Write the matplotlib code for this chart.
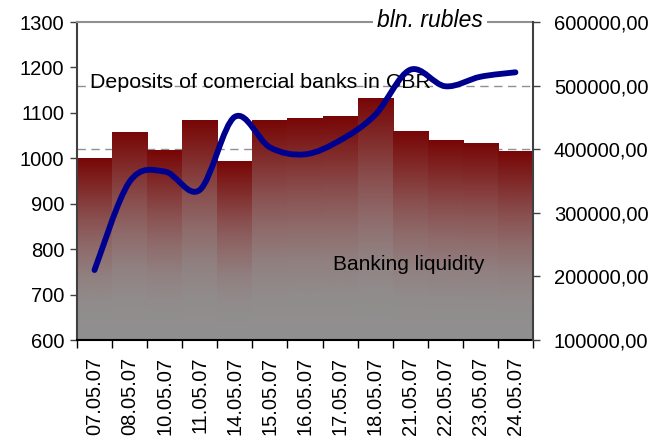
import numpy as np
import matplotlib
matplotlib.use('Agg')
import matplotlib.pyplot as plt
from matplotlib.colors import LinearSegmentedColormap
from matplotlib.path import Path
from matplotlib.patches import PathPatch
from matplotlib.transforms import blended_transform_factory

plt.rcParams['font.family'] = ['Liberation Sans', 'DejaVu Sans']

dates = ['07.05.07', '08.05.07', '10.05.07', '11.05.07', '14.05.07', '15.05.07',
         '16.05.07', '17.05.07', '18.05.07', '21.05.07', '22.05.07', '23.05.07', '24.05.07']
# deposits of commercial banks in CBR (left axis)
deposits = [1001, 1058, 1018, 1084, 994, 1084, 1089, 1093, 1133, 1060, 1040, 1034, 1016]
# banking liquidity (right axis)
liquidity = [210000, 349000, 365000, 336000, 451000, 403000, 392000,
             414000, 454000, 525000, 499000, 514000, 521000]

left_ticks = [600, 700, 800, 900, 1000, 1100, 1200, 1300]
right_ticks = [100000, 200000, 300000, 400000, 500000, 600000]
grid_vals = [400000, 500000]

fig = plt.figure(figsize=(6.67, 4.41), dpi=100)
ax = fig.add_axes([0.1154, 0.229, 0.6837, 0.721])
ax2 = ax.twinx()

x = np.arange(len(dates))

# bars with vertical gradient (dark red on top -> gray at bottom)
cmap = LinearSegmentedColormap.from_list(
    'redgray', [(0.0, '#780606'), (0.19, '#82302f'), (0.34, '#8a5050'),
                (0.49, '#8f6a6a'), (0.65, '#918080'), (0.8, '#918c8c'),
                (1.0, '#909090')])
grad = np.linspace(0, 1, 256).reshape(-1, 1)
bars = ax.bar(x, deposits, width=1.0, bottom=0, color='none', edgecolor='none', zorder=1)
for xi, h, b in zip(x, deposits, bars):
    im = ax.imshow(grad, extent=[xi - 0.5, xi + 0.5, 600, h], origin='upper',
                   aspect='auto', cmap=cmap, zorder=1)
    im.set_clip_path(b)

ax.set_xlim(-0.5, len(dates) - 0.5)
ax.set_ylim(600, 1300)
ax.set_yticks(left_ticks)
ax.set_aspect('auto')

# dashed grid lines (right axis values) behind bars
trans = blended_transform_factory(ax.transAxes, ax2.transData)
for v in grid_vals:
    ax.plot([0, 1], [v, v], transform=trans, color='#909090', lw=1.0,
            ls=(0, (6, 4)), zorder=0.5)

# smoothed line on right axis (cubic bezier through the points)
pts = np.column_stack([x, liquidity]).astype(float)
verts = [pts[0]]
codes = [Path.MOVETO]
for i in range(len(pts) - 1):
    p0 = pts[i - 1] if i > 0 else pts[i]
    p1 = pts[i]
    p2 = pts[i + 1]
    p3 = pts[i + 2] if i + 2 < len(pts) else pts[i + 1]
    c1 = p1 + (p2 - p0) / 6
    c2 = p2 - (p3 - p1) / 6
    verts += [c1, c2, p2]
    codes += [Path.CURVE4] * 3
line = PathPatch(Path(verts, codes), facecolor='none', edgecolor='#00008e',
                 lw=4.2, capstyle='round', joinstyle='round', zorder=3)
ax2.add_patch(line)
ax2.set_ylim(100000, 600000)
ax2.set_yticks(right_ticks)
ax2.set_yticklabels(['%d,00' % v for v in right_ticks])

# x ticks at bar boundaries, labels at centers
ax.set_xticks(np.arange(-0.5, len(dates), 1.0))
ax.set_xticklabels([])
ax.set_xticks(x, minor=True)
ax.set_xticklabels(dates, minor=True, rotation=90, fontsize=14.5)
ax.tick_params(axis='x', which='major', direction='out', length=6, width=1, color='black')
ax.tick_params(axis='x', which='minor', length=0, pad=12)
ax.tick_params(axis='y', direction='out', length=5, width=1, color='#404040',
               labelsize=14.5, pad=4)
ax2.tick_params(axis='y', direction='out', length=5, width=1, color='#404040',
                labelsize=14.5, pad=10)

ax.spines['right'].set_visible(False)
ax.spines['top'].set_color('#909090')
ax.spines['top'].set_linewidth(1.5)
ax.spines['left'].set_color('#404040')
ax.spines['left'].set_linewidth(1.5)
ax.spines['bottom'].set_color('black')
ax.spines['bottom'].set_linewidth(1.5)
for s in ['left', 'top', 'bottom']:
    ax2.spines[s].set_visible(False)
ax2.spines['right'].set_color('#404040')
ax2.spines['right'].set_linewidth(1.5)

ax.text(0.0285, 0.811, 'Deposits of comercial banks in CBR', transform=ax.transAxes,
        fontsize=15.4, va='center', ha='left', zorder=2)
ax.text(0.561, 0.236, 'Banking liquidity', transform=ax.transAxes,
        fontsize=15, va='center', ha='left', zorder=2)
ax2.text(0.774, 1.005, 'bln. rubles', transform=ax2.transAxes, fontsize=16.5,
         style='italic', va='center', ha='center', zorder=5,
         bbox=dict(facecolor='white', edgecolor='none', pad=3))

fig.savefig('out.png', dpi=100)
